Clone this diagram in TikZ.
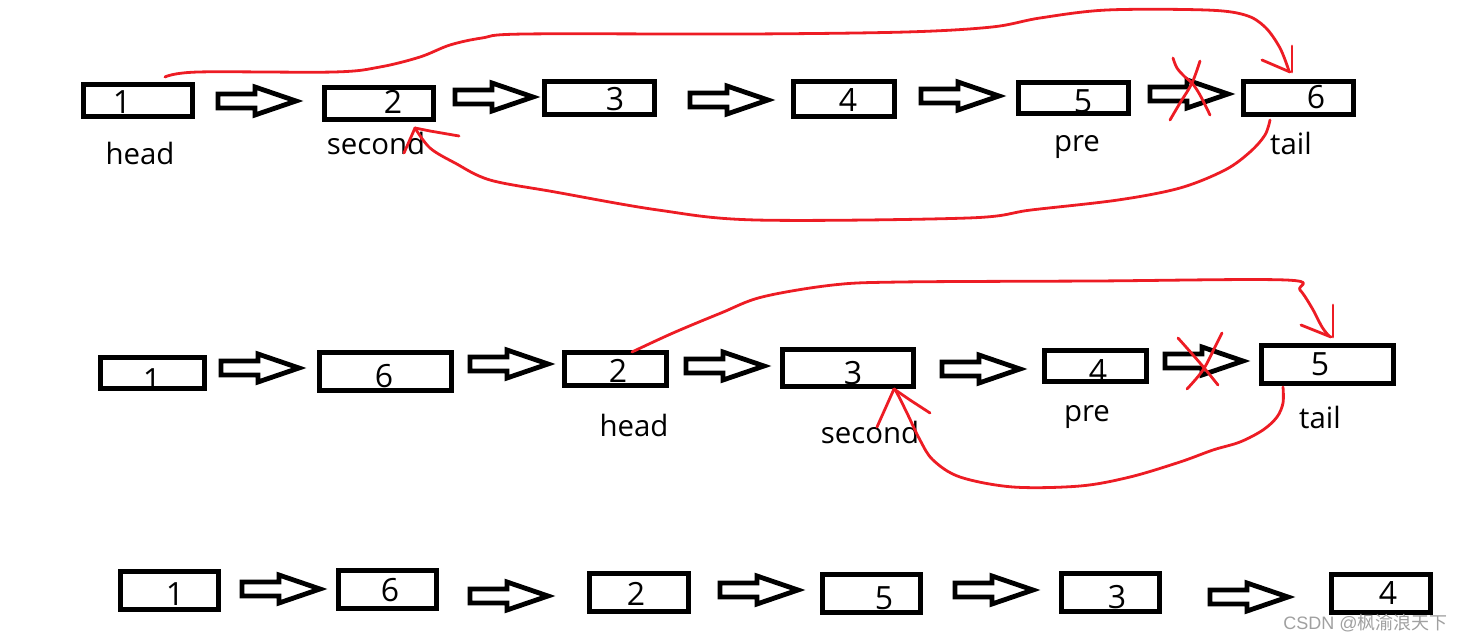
\documentclass[tikz,border=0pt]{standalone}
\usepackage{fontspec}
\setmainfont{Open Sans}
\newfontfamily\cjkfont{Noto Sans CJK SC}
\newfontfamily\wmfont{Liberation Sans}
\definecolor{inkred}{RGB}{237,28,36}
\definecolor{wmgray}{RGB}{160,160,160}
\tikzset{
  box/.style 2 args={draw=black, line width=2.6pt, inner sep=0pt, minimum width=#1*0.5pt, minimum height=#2*0.5pt},
  num/.style={inner sep=0pt, font=\fontsize{16pt}{16pt}\selectfont},
  lbl/.style={inner sep=0pt, anchor=base, font=\fontsize{14.7pt}{14.7pt}\selectfont},
  redline/.style={draw=inkred, line width=1.4pt, line cap=round, line join=round},
  barrow/.pic={\draw[line width=2.4pt, line join=miter] (0,-7) -- (37,-7) -- (37,-14) -- (78,0) -- (37,14) -- (37,7) -- (0,7) -- cycle;}
}
\begin{document}
\begin{tikzpicture}[x=0.5pt,y=-0.5pt]
\useasboundingbox (0,0) rectangle (1464,642);
% ---------- row 1 ----------
\node[box={109}{32}] (b11) at (138,100.5) {};
\node[box={109}{32}] (b12) at (379,103.5) {};
\node[box={110}{33}] (b13) at (599.5,98) {};
\node[box={101}{35}] (b14) at (844,99) {};
\node[box={110}{31}] (b15) at (1073.5,98) {};
\node[box={110}{33}] (b16) at (1298.5,98) {};
\node[num] (t11) at (122,102) {1};
\node[num] (t12) at (393,102) {2};
\node[num] (t13) at (615,99) {3};
\node[num] (t14) at (848,100) {4};
\node[num] (t15) at (1083,101) {5};
\node[num] (t16) at (1316,97) {6};
\node[lbl] (l11) at (140,165) {head};
\node[lbl] (l12) at (376,155) {second};
\node[lbl] (l15) at (1077,152) {pre};
\node[lbl] (l16) at (1291,155) {tail};
\pic at (218,101) {barrow};
\pic at (455,97) {barrow};
\pic at (690,100) {barrow};
\pic at (921,96) {barrow};
\pic at (1150,94) {barrow};
% red marks row 1
\draw[redline] plot[smooth, tension=0.55] coordinates {(165,77) (198,72) (334,72) (380,67) (420,57) (450,45) (482,38) (525,34) (748,34) (906,32) (992,27) (1040,18) (1107,10) (1206,10) (1245,15) (1265,27) (1280,48) (1289,71)};
\draw[redline] (1262,60) -- (1290,72);
\draw[redline] (1292,46) -- (1292,72);
\draw[redline] plot[smooth, tension=0.55] coordinates {(1270,120) (1265,135) (1250,152) (1225,170) (1180,188) (1118,200) (1031,210) (968,218) (756,220) (658,210) (555,192) (490,180) (455,163) (430,148) (415,128)};
\draw[redline] (404,153) -- (415,128);
\draw[redline] (415,128) -- (430,131) -- (459,136);
\draw[redline] plot[smooth, tension=0.6] coordinates {(1173,58) (1177,68) (1185,77) (1192,83) (1200,95) (1210,115)};
\draw[redline] plot[smooth, tension=0.6] coordinates {(1200,61) (1192,83) (1180,103) (1170,120)};
% ---------- row 2 ----------
\node[box={104}{31}] (b21) at (152.5,373) {};
\node[box={132}{38}] (b22) at (385.5,371.5) {};
\node[box={102}{33}] (b23) at (615.5,369) {};
\node[box={131}{37}] (b24) at (848,368) {};
\node[box={102}{31}] (b25) at (1095.5,366) {};
\node[box={132}{38}] (b26) at (1327.5,364.5) {};
\node[num] (t21) at (152,380) {1};
\node[num] (t22) at (384,376) {6};
\node[num] (t23) at (618,371) {2};
\node[num] (t24) at (853,373) {3};
\node[num] (t25) at (1098,371) {4};
\node[num] (t26) at (1320,364) {5};
\node[lbl] (l23) at (634,437) {head};
\node[lbl] (l24) at (870,443) {second};
\node[lbl] (l25) at (1087,422) {pre};
\node[lbl] (l26) at (1320,428) {tail};
\pic at (221,368) {barrow};
\pic at (470,364) {barrow};
\pic at (686,366) {barrow};
\pic at (942,369) {barrow};
\pic at (1165,361) {barrow};
% red marks row 2
\draw[redline] plot[smooth, tension=0.55] coordinates {(632,352) (673,333) (721,313) (762,297) (833,285) (901,282) (1094,281) (1286,280) (1300,290) (1312,308) (1322,327) (1329,336)};
\draw[redline] (1301,325) -- (1331,337);
\draw[redline] (1333,305) -- (1333,337);
\draw[redline] plot[smooth, tension=0.55] coordinates {(1283,387) (1283,403) (1277,417) (1263,430) (1240,442) (1213,450) (1180,462) (1130,477) (1080,486) (1013,487) (960,477) (933,460) (920,440) (907,413) (897,393) (894,389)};
\draw[redline] (877,427) -- (894,389);
\draw[redline] (894,389) -- (910,400) -- (930,413);
\draw[redline] plot[smooth, tension=0.6] coordinates {(1178,338) (1200,363) (1218,385)};
\draw[redline] plot[smooth, tension=0.6] coordinates {(1222,333) (1215,347) (1203,370) (1187,389)};
% ---------- row 3 ----------
\node[box={98}{38}] (b31) at (169.5,590.5) {};
\node[box={98}{38}] (b32) at (387.5,589.5) {};
\node[box={99}{38}] (b33) at (639,592.5) {};
\node[box={98}{38}] (b34) at (871.5,593.5) {};
\node[box={98}{38}] (b35) at (1110.5,592.5) {};
\node[box={99}{38}] (b36) at (1381,593.5) {};
\node[num] (t31) at (175,594) {1};
\node[num] (t32) at (390,590) {6};
\node[num] (t33) at (636,594) {2};
\node[num] (t34) at (884,598) {5};
\node[num] (t35) at (1117,597) {3};
\node[num] (t36) at (1388,593) {4};
\pic at (242,589) {barrow};
\pic at (470,596) {barrow};
\pic at (720,590) {barrow};
\pic at (955,590) {barrow};
\pic at (1210,597) {barrow};
% watermark
\node[inner sep=0pt, anchor=east, text=wmgray, font=\fontsize{9pt}{9pt}\selectfont] (wm) at (1448,623) {\wmfont CSDN @\cjkfont 枫渝浪天下};
\end{tikzpicture}
\end{document}
